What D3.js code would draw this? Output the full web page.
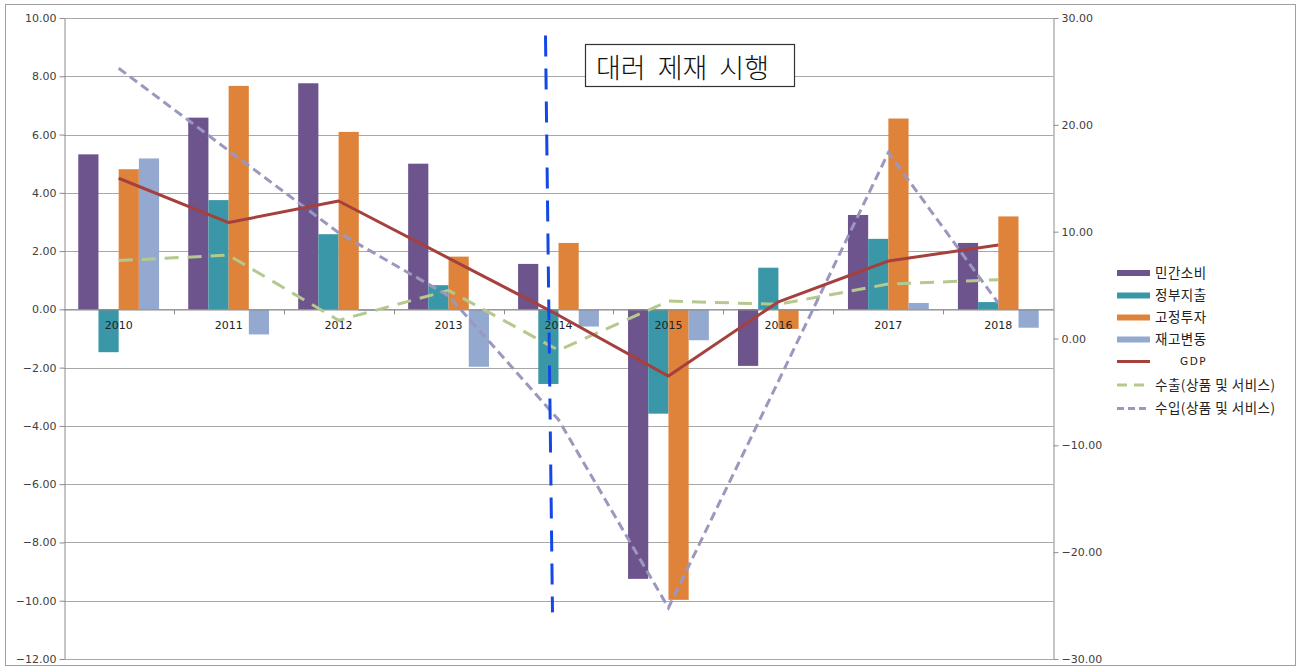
<!DOCTYPE html>
<html>
<head>
<meta charset="utf-8">
<script src="https://cdn.jsdelivr.net/npm/d3@7"></script>
<style>
  html, body { margin: 0; padding: 0; background: #fff; }
  svg { display: block; }
</style>
</head>
<body>
<svg id="chart" width="1300" height="670"></svg>
<script>
// Years on the category axis
const categories = ['2010', '2011', '2012', '2013', '2014', '2015', '2016', '2017', '2018'];

// Bar series (left axis, %)
const privateConsumption = [5.32, 6.58, 7.76, 5.00, 1.56, -9.25, -1.94, 3.24, 2.28];
const governmentSpending = [-1.47, 3.75, 2.58, 0.83, -2.56, -3.58, 1.43, 2.42, 0.25];
const fixedInvestment = [4.81, 7.67, 6.09, 1.81, 2.28, -9.97, -0.67, 6.55, 3.19];
const inventoryChange = [5.18, -0.86, -0.05, -1.97, -0.59, -1.06, -0.05, 0.22, -0.63];

// Line series: GDP on the left axis, trade on the right axis
const gdp = [4.50, 2.98, 3.72, 1.76, -0.20, -2.29, 0.26, 1.66, 2.21];
const exportsGS = [7.3, 7.8, 1.7, 4.5, -1.1, 3.5, 3.2, 5.1, 5.5];
const importsGS = [25.3, 17.6, 9.9, 4.0, -7.6, -25.2, -4.0, 17.4, 3.3];

// Axis ticks
const leftTicks = [10, 8, 6, 4, 2, 0, -2, -4, -6, -8, -10, -12];
const rightTicks = [30, 20, 10, 0, -10, -20, -30];

// Series names
const barNames = ['민간소비', '정부지출', '고정투자', '재고변동'];
const gdpName = 'GDP';
const exportsName = '수출(상품 및 서비스)';
const importsName = '수입(상품 및 서비스)';
const annotationText = '대러 제재 시행';

const barSeries = [privateConsumption, governmentSpending, fixedInvestment, inventoryChange];
const barColors = ['#6E548D', '#3A97A8', '#E0833A', '#93A9D0'];
const gdpColor = '#A5403D';
const exportsColor = '#B5C98E';
const importsColor = '#9C97BE';

const svg = d3.select('#chart');

// Outer frame
svg.append('rect')
  .attr('x', 5.5).attr('y', 4.5)
  .attr('width', 1290).attr('height', 661)
  .attr('fill', '#fff').attr('stroke', '#a0a0a0').attr('stroke-width', 1);

const plot = { left: 63.7, right: 1053.3, top: 18, bottom: 659 };

const x0 = d3.scaleBand().domain(categories).range([plot.left, plot.right]);
const bw = x0.bandwidth();
const groupW = bw * 0.735;
const x1 = d3.scaleBand().domain(d3.range(barNames.length))
  .range([(bw - groupW) / 2, (bw + groupW) / 2]);

const yL = d3.scaleLinear().domain([-12, 10]).range([plot.bottom, plot.top]);
const yR = d3.scaleLinear().domain([-30, 30]).range([plot.bottom, plot.top]);
const cx = c => x0(c) + bw / 2;

// Horizontal gridlines at left-axis ticks
svg.append('g')
  .selectAll('line')
  .data(leftTicks)
  .join('line')
  .attr('x1', plot.left).attr('x2', plot.right)
  .attr('y1', d => Math.round(yL(d)) + 0.5).attr('y2', d => Math.round(yL(d)) + 0.5)
  .attr('stroke', '#a8a8a8').attr('stroke-width', 1);

// Left axis
const leftAxis = d3.axisLeft(yL).tickValues(leftTicks).tickFormat(d3.format('.2f'))
  .tickSize(5).tickSizeOuter(0);
const gL = svg.append('g').attr('transform', `translate(${Math.round(plot.left) + 0.5},0)`).call(leftAxis);
gL.select('.domain').attr('stroke', '#8c8c8c');
gL.selectAll('.tick line').attr('stroke', '#8c8c8c');
gL.selectAll('.tick text')
  .attr('font-family', 'DejaVu Sans').attr('font-size', 11).attr('fill', '#404040').attr('x', -8);

// Right axis
const rightAxis = d3.axisRight(yR).tickValues(rightTicks).tickFormat(d3.format('.2f'))
  .tickSize(5).tickSizeOuter(0);
const gR = svg.append('g').attr('transform', `translate(${Math.round(plot.right) + 0.5},0)`).call(rightAxis);
gR.select('.domain').attr('stroke', '#8c8c8c');
gR.selectAll('.tick line').attr('stroke', '#8c8c8c');
gR.selectAll('.tick text')
  .attr('font-family', 'DejaVu Sans').attr('font-size', 11).attr('fill', '#404040').attr('x', 8);

// Bars
const barData = [];
categories.forEach((c, i) => {
  barSeries.forEach((s, k) => barData.push({ c, k, v: s[i] }));
});
svg.append('g')
  .selectAll('rect')
  .data(barData)
  .join('rect')
  .attr('x', d => x0(d.c) + x1(d.k))
  .attr('width', x1.bandwidth())
  .attr('y', d => Math.min(yL(d.v), yL(0)))
  .attr('height', d => Math.abs(yL(d.v) - yL(0)))
  .attr('fill', d => barColors[d.k]);

// Category axis along zero
const catAxis = d3.axisBottom(x0).tickSize(0).tickSizeOuter(0);
const gC = svg.append('g').attr('transform', `translate(0,${Math.round(yL(0)) + 0.5})`).call(catAxis);
gC.select('.domain').attr('stroke', '#8c8c8c');
gC.selectAll('.tick text')
  .attr('font-family', 'DejaVu Sans').attr('font-size', 11).attr('fill', '#222').attr('dy', '1.05em').attr('y', 8);
// tick marks at category boundaries
svg.append('g')
  .selectAll('line')
  .data(categories.slice(1))
  .join('line')
  .attr('x1', d => Math.round(x0(d)) + 0.5).attr('x2', d => Math.round(x0(d)) + 0.5)
  .attr('y1', yL(0)).attr('y2', yL(0) + 5)
  .attr('stroke', '#8c8c8c');

// Lines
const lineL = d3.line().x((d, i) => cx(categories[i])).y(d => yL(d));
const lineR = d3.line().x((d, i) => cx(categories[i])).y(d => yR(d));

svg.append('path').datum(exportsGS).attr('d', lineR)
  .attr('fill', 'none').attr('stroke', exportsColor).attr('stroke-width', 3)
  .attr('stroke-dasharray', '14,9');
svg.append('path').datum(importsGS).attr('d', lineR)
  .attr('fill', 'none').attr('stroke', importsColor).attr('stroke-width', 3)
  .attr('stroke-dasharray', '9,5');
svg.append('path').datum(gdp).attr('d', lineL)
  .attr('fill', 'none').attr('stroke', gdpColor).attr('stroke-width', 3)
  .attr('stroke-linejoin', 'round');

// Sanctions marker: dashed vertical just before 2014
const markX = cx('2014');
svg.append('line')
  .attr('x1', markX - 13).attr('y1', yL(9.4))
  .attr('x2', markX - 6).attr('y2', yL(-10.4))
  .attr('stroke', '#1448E6').attr('stroke-width', 3)
  .attr('stroke-dasharray', '21,12');

// Annotation box
const ann = svg.append('g');
ann.append('rect')
  .attr('x', 585.5).attr('y', 44.5).attr('width', 209).attr('height', 42)
  .attr('fill', '#fff').attr('stroke', '#333').attr('stroke-width', 1.2);
ann.append('text')
  .attr('x', 596).attr('y', 78)
  .attr('font-family', 'Noto Sans CJK KR').attr('font-size', 27).attr('font-weight', 300)
  .attr('fill', '#111').attr('word-spacing', 6)
  .text(annotationText);

// Legend
const legendItems = [
  { name: barNames[0], type: 'bar', color: barColors[0] },
  { name: barNames[1], type: 'bar', color: barColors[1] },
  { name: barNames[2], type: 'bar', color: barColors[2] },
  { name: barNames[3], type: 'bar', color: barColors[3] },
  { name: gdpName, type: 'gdp', color: gdpColor },
  { name: exportsName, type: 'exp', color: exportsColor },
  { name: importsName, type: 'imp', color: importsColor }
];
const legendY = [273, 295.5, 317.5, 339.5, 361.5, 385, 408.5];
const lg = svg.append('g');
legendItems.forEach((it, i) => {
  const y = legendY[i];
  if (it.type === 'bar') {
    lg.append('rect').attr('x', 1117).attr('y', y - 3).attr('width', 33).attr('height', 6).attr('fill', it.color);
  } else {
    const ln = lg.append('line').attr('x1', 1117).attr('x2', 1150).attr('y1', y).attr('y2', y)
      .attr('stroke', it.color).attr('stroke-width', 3);
    if (it.type === 'exp') ln.attr('stroke-dasharray', '10,7');
    if (it.type === 'imp') ln.attr('stroke-dasharray', '7,4');
  }
  lg.append('text')
    .attr('x', it.type === 'gdp' ? 1180 : 1155).attr('y', y)
    .attr('dy', '0.36em')
    .attr('font-family', it.type === 'gdp' ? 'DejaVu Sans' : 'Noto Sans CJK KR')
    .attr('font-size', it.type === 'gdp' ? 10.5 : 13.5)
    .attr('letter-spacing', it.type === 'gdp' ? 1.5 : 0.5)
    .attr('fill', '#222')
    .text(it.name);
});
</script>
</body>
</html>
